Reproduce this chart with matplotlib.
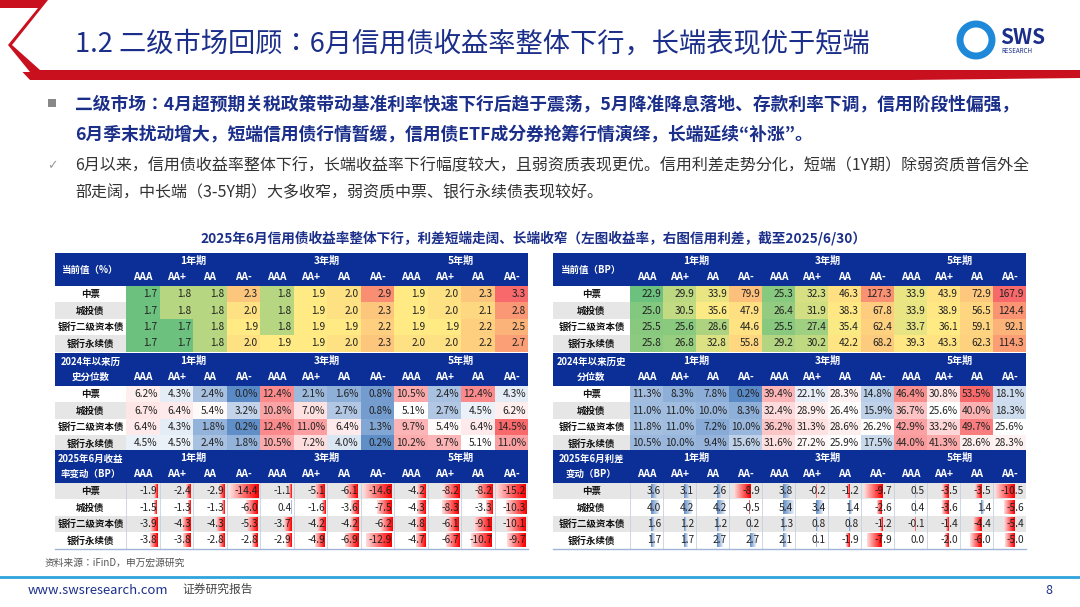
import numpy as np
import matplotlib
matplotlib.use("Agg")
import matplotlib.pyplot as plt
from matplotlib.colors import LinearSegmentedColormap, TwoSlopeNorm
from matplotlib.patches import Rectangle, Polygon, Circle

plt.rcParams["font.family"] = ["Noto Sans CJK JP", "DejaVu Sans"]

# ---- data -------------------------------------------------------------------
rows = ["中票", "城投债", "银行二级资本债", "银行永续债"]
tenors = ["1年期", "3年期", "5年期"]
ratings = ["AAA", "AA+", "AA", "AA-"]

yld_now = [[1.7, 1.8, 1.8, 2.3, 1.8, 1.9, 2.0, 2.9, 1.9, 2.0, 2.3, 3.3],
           [1.7, 1.8, 1.8, 2.0, 1.8, 1.9, 2.0, 2.3, 1.9, 2.0, 2.1, 2.8],
           [1.7, 1.7, 1.8, 1.9, 1.8, 1.9, 1.9, 2.2, 1.9, 1.9, 2.2, 2.5],
           [1.7, 1.7, 1.8, 2.0, 1.9, 1.9, 2.0, 2.3, 2.0, 2.0, 2.2, 2.7]]
yld_pct = [[6.2, 4.3, 2.4, 0.0, 12.4, 2.1, 1.6, 0.8, 10.5, 2.4, 12.4, 4.3],
           [6.7, 6.4, 5.4, 3.2, 10.8, 7.0, 2.7, 0.8, 5.1, 2.7, 4.5, 6.2],
           [6.4, 4.3, 1.8, 0.2, 12.4, 11.0, 6.4, 1.3, 9.7, 5.4, 6.4, 14.5],
           [4.5, 4.5, 2.4, 1.8, 10.5, 7.2, 4.0, 0.2, 10.2, 9.7, 5.1, 11.0]]
yld_chg = [[-1.9, -2.4, -2.9, -14.4, -1.1, -5.1, -6.1, -14.6, -4.2, -8.2, -8.2, -15.2],
           [-1.5, -1.3, -1.3, -6.0, 0.4, -1.6, -3.6, -7.5, -4.3, -8.3, -3.3, -10.3],
           [-3.9, -4.3, -4.3, -5.3, -3.7, -4.2, -4.2, -6.2, -4.8, -6.1, -9.1, -10.1],
           [-3.8, -3.8, -2.8, -2.8, -2.9, -4.9, -6.9, -12.9, -4.7, -6.7, -10.7, -9.7]]

spr_now = [[22.9, 29.9, 33.9, 79.9, 25.3, 32.3, 46.3, 127.3, 33.9, 43.9, 72.9, 167.9],
           [25.0, 30.5, 35.6, 47.9, 26.4, 31.9, 38.3, 67.8, 33.9, 38.9, 56.5, 124.4],
           [25.5, 25.6, 28.6, 44.6, 25.5, 27.4, 35.4, 62.4, 33.7, 36.1, 59.1, 92.1],
           [25.8, 26.8, 32.8, 55.8, 29.2, 30.2, 42.2, 68.2, 39.3, 43.3, 62.3, 114.3]]
spr_pct = [[11.3, 8.3, 7.8, 0.2, 39.4, 22.1, 28.3, 14.8, 46.4, 30.8, 53.5, 18.1],
           [11.0, 11.0, 10.0, 8.3, 32.4, 28.9, 26.4, 15.9, 36.7, 25.6, 40.0, 18.3],
           [11.8, 11.0, 7.2, 10.0, 36.2, 31.3, 28.6, 26.2, 42.9, 33.2, 49.7, 25.6],
           [10.5, 10.0, 9.4, 15.6, 31.6, 27.2, 25.9, 17.5, 44.0, 41.3, 28.6, 28.3]]
spr_chg = [[3.6, 3.1, 2.6, -8.9, 3.8, -0.2, -1.2, -9.7, 0.5, -3.5, -3.5, -10.5],
           [4.0, 4.2, 4.2, -0.5, 5.4, 3.4, 1.4, -2.6, 0.4, -3.6, 1.4, -5.6],
           [1.6, 1.2, 1.2, 0.2, 1.3, 0.8, 0.8, -1.2, -0.1, -1.4, -4.4, -5.4],
           [1.7, 1.7, 2.7, 2.7, 2.1, 0.1, -1.9, -7.9, 0.0, -2.0, -6.0, -5.0]]

# ---- styles -----------------------------------------------------------------
NAVY = "#1B2F8A"
HEAD = "#0B2F96"
GRAY = "#E6E6E6"
cm_level = LinearSegmentedColormap.from_list("lv", ["#6CC17E", "#FFEB84", "#F8696B"])
cm_pct = LinearSegmentedColormap.from_list("pc", ["#5A8AC6", "#FFFFFF", "#F8696B"])

fig = plt.figure(figsize=(10.8, 6.07), dpi=100)
ax = fig.add_axes([0, 0, 1, 1])
W, H = 1080, 607

# ---- slide header -----------------------------------------------------------
ax.add_patch(Polygon([(0, 0), (48, 0), (12, 45), (40, 70), (1080, 70), (1080, 78),
                      (910, 80), (30, 80), (0, 48)], closed=True, color="#C8101F", lw=0))
ax.add_patch(Polygon([(0, 8), (38, 8), (8, 45), (30, 72), (0, 72)], closed=True,
                     color="white", lw=0))
ax.text(75, 44, "1.2 二级市场回顾：6月信用债收益率整体下行，长端表现优于短端",
        fontsize=19.6, color=NAVY, va="center", ha="left")
ax.add_patch(Circle((976, 40), 16, fill=False, ec="#1E88D9", lw=5))
ax.text(1000, 37, "SWS", fontsize=15, color=NAVY, fontweight="bold", va="center")
ax.text(1001, 51, "RESEARCH", fontsize=4.5, color=NAVY, va="center")

ax.add_patch(Rectangle((48, 99), 8, 8, color="#888888", lw=0))
ax.text(75, 104, "二级市场：4月超预期关税政策带动基准利率快速下行后趋于震荡，5月降准降息落地、存款利率下调，信用阶段性偏强，",
        fontsize=12.8, color=NAVY, fontweight="bold", va="center")
ax.text(75, 134, "6月季末扰动增大，短端信用债行情暂缓，信用债ETF成分券抢筹行情演绎，长端延续“补涨”。",
        fontsize=12.8, color=NAVY, fontweight="bold", va="center")
ax.text(47, 166, "✓", fontsize=9, color="#999999", va="center", family="DejaVu Sans")
ax.text(75, 166, "6月以来，信用债收益率整体下行，长端收益率下行幅度较大，且弱资质表现更优。信用利差走势分化，短端（1Y期）除弱资质普信外全",
        fontsize=11.5, color="#333333", va="center")
ax.text(75, 193, "部走阔，中长端（3-5Y期）大多收窄，弱资质中票、银行永续债表现较好。",
        fontsize=11.5, color="#333333", va="center")
ax.text(533, 238, "2025年6月信用债收益率整体下行，利差短端走阔、长端收窄（左图收益率，右图信用利差，截至2025/6/30）",
        fontsize=9.8, color=NAVY, fontweight="bold", ha="center", va="center")

# ---- tables -----------------------------------------------------------------
HH = 33.0
RH = 16.4


def header(x0, lw, cw, top, label):
    ax.add_patch(Rectangle((x0, top), lw + 12 * cw, HH, color=HEAD, lw=0))
    ax.text(x0 + lw / 2, top + HH / 2, label, fontsize=6.8, color="white",
            fontweight="bold", ha="center", va="center", linespacing=1.6)
    for k, t in enumerate(tenors):
        ax.text(x0 + lw + (4 * k + 2) * cw, top + 8, t, fontsize=7.3, color="white",
                fontweight="bold", ha="center", va="center")
        for j, r in enumerate(ratings):
            ax.text(x0 + lw + (4 * k + j + 0.5) * cw, top + 24, r, fontsize=7.3,
                    color="white", fontweight="bold", ha="center", va="center")


def row_labels(x0, lw, top, shade_odd):
    for i, name in enumerate(rows):
        y = top + i * RH
        if (i % 2 == 1) == shade_odd:
            ax.add_patch(Rectangle((x0, y), lw, RH, color=GRAY, lw=0))
        ax.text(x0 + lw / 2, y + RH / 2, name, fontsize=6.8, color="#111111",
                fontweight="bold", ha="center", va="center")


def heat(x0, lw, cw, top, label, data, cmap, fmt):
    header(x0, lw, cw, top, label)
    top += HH
    row_labels(x0, lw, top, True)
    arr = np.array(data)
    norm = TwoSlopeNorm(vmin=arr.min(), vcenter=np.percentile(arr, 50), vmax=arr.max())
    for i in range(4):
        for j in range(12):
            x = x0 + lw + j * cw
            y = top + i * RH
            ax.add_patch(Rectangle((x, y), cw, RH, color=cmap(norm(arr[i, j])), lw=0))
            ax.text(x + cw - 2, y + RH / 2, fmt % arr[i, j], fontsize=7.3,
                    color="#222222", ha="right", va="center")


def bars(x0, lw, cw, top, label, data):
    header(x0, lw, cw, top, label)
    top += HH
    arr = np.array(data)
    lo, hi = min(arr.min(), 0), max(arr.max(), 0)
    span = hi - lo
    inner = cw - 3
    for i in range(4):
        y = top + i * RH
        if i % 2 == 0:
            ax.add_patch(Rectangle((x0, y), lw + 12 * cw, RH, color=GRAY, lw=0))
        ax.text(x0 + lw / 2, y + RH / 2, rows[i], fontsize=6.8, color="#111111",
                fontweight="bold", ha="center", va="center")
        for j in range(12):
            x = x0 + lw + j * cw
            ax.plot([x, x], [y, y + RH], color="#C8D0E0", lw=0.6)
            v = arr[i, j]
            axis_x = x + 1.5 + inner * (-lo / span)
            L = abs(v) / span * inner
            if v < 0:
                grad = np.linspace(0.15, 1, 20)[None, :]
                cmap = LinearSegmentedColormap.from_list("r", ["#FFFFFF", "#FF0000"])
                ax.imshow(grad, cmap=cmap, vmin=0, vmax=1, aspect="auto",
                          extent=(axis_x - L, axis_x, y + RH - 1.5, y + 1.5), zorder=2)
            elif v > 0:
                grad = np.linspace(1, 0.15, 20)[None, :]
                cmap = LinearSegmentedColormap.from_list("b", ["#FFFFFF", "#638EC6"])
                ax.imshow(grad, cmap=cmap, vmin=0, vmax=1, aspect="auto",
                          extent=(axis_x, axis_x + L, y + RH - 1.5, y + 1.5), zorder=2)
            ax.text(x + cw - 2, y + RH / 2, "%.1f" % v, fontsize=7.3, color="#222222",
                    ha="right", va="center", zorder=3)
    ax.plot([x0, x0 + lw + 12 * cw], [top + 4 * RH, top + 4 * RH], color="#9FB4D8", lw=1)


LX, LLW, LCW = 55, 71, 33.5
RX, RLW, RCW = 553, 77, 33.0

heat(LX, LLW, LCW, 253, "当前值（%）", yld_now, cm_level, "%.1f")
heat(LX, LLW, LCW, 353, "2024年以来历\n史分位数", yld_pct, cm_pct, "%.1f%%")
bars(LX, LLW, LCW, 450, "2025年6月收益\n率变动（BP）", yld_chg)

heat(RX, RLW, RCW, 253, "当前值（BP）", spr_now, cm_level, "%.1f")
heat(RX, RLW, RCW, 353, "2024年以来历史\n分位数", spr_pct, cm_pct, "%.1f%%")
bars(RX, RLW, RCW, 450, "2025年6月利差\n变动（BP）", spr_chg)

# ---- footer -----------------------------------------------------------------
ax.text(45, 563, "资料来源：iFinD，申万宏源研究", fontsize=7, color="#555555", va="center")
ax.plot([0, W], [577, 577], color="#2FA4DC", lw=2)
ax.text(28, 590, "www.swsresearch.com", fontsize=9.4, color=NAVY, va="center")
ax.text(182, 589, "证券研究报告", fontsize=8.5, color="#444444", va="center")
ax.text(1045, 590, "8", fontsize=9, color=NAVY, va="center")

ax.set_xlim(0, W)
ax.set_ylim(H, 0)
ax.axis("off")
fig.savefig("out.png", dpi=100)
